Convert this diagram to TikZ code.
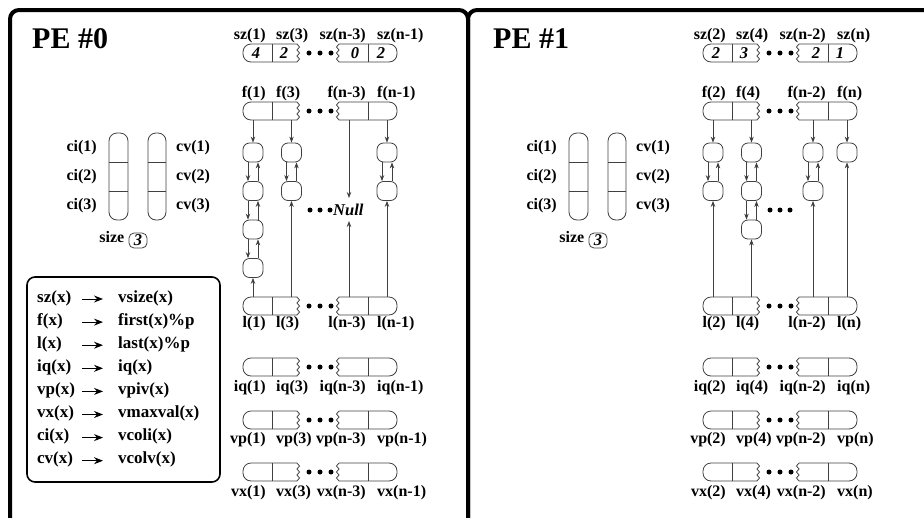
\documentclass[tikz,border=0pt]{standalone}
\usepackage{fontspec}
\setmainfont{Liberation Serif}
\usetikzlibrary{arrows.meta}
\tikzset{
  arrline/.style={draw=black!75, line width=0.8pt},
  lbl/.style={font=\fontsize{16}{16}\selectfont\bfseries, inner sep=0pt, text height=11pt, text depth=3.5pt},
  leg/.style={font=\fontsize{17}{17}\selectfont\bfseries, inner sep=0pt, text height=12pt, text depth=3.5pt, anchor=west},
  val/.style={font=\fontsize{16.5}{16.5}\selectfont\bfseries\itshape, inner sep=0pt},
  cellnode/.style={draw=black!75, line width=0.8pt, rounded corners=6.5pt, minimum width=20pt, minimum height=19pt, inner sep=0pt},
  conn/.style={draw=black!75, line width=0.8pt, -{Stealth[length=6pt,width=4.5pt,inset=2pt]}},
  legarrow/.style={line width=1pt, -{Stealth[length=9pt,width=7pt,inset=3pt]}},
  panel/.style={line width=4pt, rounded corners=9pt},
  pe/.style={font=\fontsize{30}{30}\selectfont\bfseries, inner sep=0pt, anchor=base west},
}
% #1 x0, #2 y0, #3 name, #4 col3 offset
\newcommand\drawarray[4]{%
\begin{scope}[shift={(#1,#2)}]
\draw[arrline,rounded corners=8pt] (54,0) -- (0,0) -- (0,18) -- (54,18);
\draw[arrline] (54,0) -- (56.5,3) -- (54,6) -- (56.5,9) -- (54,12) -- (56.5,15) -- (54,18);
\draw[arrline,rounded corners=8pt] (96,18) -- (154,18) -- (154,0) -- (96,0);
\draw[arrline] (96,0) -- (93.5,3) -- (96,6) -- (93.5,9) -- (96,12) -- (93.5,15) -- (96,18);
\draw[arrline] (29,0) -- (29,18) (125,0) -- (125,18);
\fill[black] (66,9) circle (2.5) (77,9) circle (2.5) (88,9) circle (2.5);
\coordinate (#3-t1) at (10,0); \coordinate (#3-b1) at (10,18);
\coordinate (#3-t2) at (48.5,0); \coordinate (#3-b2) at (48.5,18);
\coordinate (#3-t3) at (#4,0); \coordinate (#3-b3) at (#4,18);
\coordinate (#3-t4) at (144,0); \coordinate (#3-b4) at (144,18);
\end{scope}}
% #1 x0, #2 y, #3 name, #4..#7 texts
\newcommand\arrlabels[7]{%
\node[lbl,anchor=east] (#3-L1) at ({#1+23},#2) {#4};
\node[lbl,anchor=west] (#3-L2) at ({#1+33},#2) {#5};
\node[lbl,anchor=east] (#3-L3) at ({#1+123},#2) {#6};
\node[lbl,anchor=west] (#3-L4) at ({#1+134},#2) {#7};}
% ci / cv columns
\newcommand\cicv[2]{%
\begin{scope}[shift={(#1,0)}]
\draw[arrline, rounded corners=8pt] (109,133) rectangle (128,220);
\draw[arrline] (109,162) -- (128,162) (109,191) -- (128,191);
\draw[arrline, rounded corners=8pt] (148,133) rectangle (166,220);
\draw[arrline] (148,162) -- (166,162) (148,191) -- (166,191);
\node[lbl,anchor=east] (#2ci1) at (97,148) {ci(1)};
\node[lbl,anchor=east] (#2ci2) at (97,177) {ci(2)};
\node[lbl,anchor=east] (#2ci3) at (97,206) {ci(3)};
\node[lbl,anchor=west] (#2cv1) at (176,148) {cv(1)};
\node[lbl,anchor=west] (#2cv2) at (176,177) {cv(2)};
\node[lbl,anchor=west] (#2cv3) at (176,206) {cv(3)};
\node[lbl,anchor=east] (#2size) at (124.5,239) {size};
\node[val, draw=black!75, line width=0.8pt, rounded corners=5pt, minimum width=18pt, minimum height=15pt] (#2sizebox) at (138,240.5) {3};
\end{scope}}
\newcommand\dlink[2]{%
\draw[conn] ([xshift=-5pt]#1.south) -- ([xshift=-5pt]#2.north);
\draw[conn] ([xshift=5pt]#2.north) -- ([xshift=5pt]#1.south);}
\begin{document}
\begin{tikzpicture}[x=1pt,y=-1pt]
\useasboundingbox (0,0) rectangle (924,517);
\begin{scope}
\clip (0,0) rectangle (924,517);
\draw[panel] (10,540) -- (10,10) -- (468,10) -- (468,540);
\draw[panel] (468,540) -- (468,10) -- (945,10) -- (945,540);
\end{scope}
\node[pe] (pe0) at (32,48) {PE \#0};
\node[pe] (pe1) at (493,48) {PE \#1};

\cicv{0}{A}
\cicv{460}{B}

% ---------- PE 0 arrays ----------
\drawarray{243}{44}{szA}{106}
\arrlabels{243}{36}{szA}{sz(1)}{sz(3)}{sz(n-3)}{sz(n-1)}
\node[val] (szAv1) at (256,53) {4};
\node[val] (szAv2) at (284,53) {2};
\node[val] (szAv3) at (355,53) {0};
\node[val] (szAv4) at (381,53) {2};
\drawarray{243}{102}{fA}{106}
\arrlabels{243}{94}{fA}{f(1)}{f(3)}{f(n-3)}{f(n-1)}
\drawarray{243}{297}{lA}{106}
\arrlabels{243}{324}{lA}{l(1)}{l(3)}{l(n-3)}{l(n-1)}
\drawarray{243}{358}{iqA}{106}
\arrlabels{243}{388}{iqA}{iq(1)}{iq(3)}{iq(n-3)}{iq(n-1)}
\drawarray{243}{411}{vpA}{106}
\arrlabels{243}{440}{vpA}{vp(1)}{vp(3)}{vp(n-3)}{vp(n-1)}
\drawarray{243}{463}{vxA}{106}
\arrlabels{243}{493}{vxA}{vx(1)}{vx(3)}{vx(n-3)}{vx(n-1)}

% PE 0 lists
\node[cellnode] (a1) at (253,152.5) {};
\node[cellnode] (a2) at (253,191) {};
\node[cellnode] (a3) at (253,229.5) {};
\node[cellnode] (a4) at (253,268) {};
\node[cellnode] (b1) at (291.5,152.5) {};
\node[cellnode] (b2) at (291.5,191) {};
\node[cellnode] (d1) at (387,152.5) {};
\node[cellnode] (d2) at (387,191) {};
\draw[conn] (fA-b1) -- (a1.north);
\dlink{a1}{a2} \dlink{a2}{a3} \dlink{a3}{a4}
\draw[conn] (lA-t1) -- (a4.south);
\draw[conn] (fA-b2) -- (b1.north);
\dlink{b1}{b2}
\draw[conn] (lA-t2) -- (b2.south);
\coordinate (nullT) at (349,198);
\coordinate (nullB) at (349,221);
\draw[conn] (fA-b3) -- (nullT);
\draw[conn] (lA-t3) -- (nullB);
\fill[black] (310,210) circle (2.5) (320,210) circle (2.5) (330,210) circle (2.5);
\node[val, anchor=west] (null) at (333,210) {Null};
\draw[conn] (fA-b4) -- (d1.north);
\dlink{d1}{d2}
\draw[conn] (lA-t4) -- (d2.south);

% ---------- PE 1 arrays ----------
\drawarray{703}{44}{szB}{110}
\arrlabels{703}{36}{szB}{sz(2)}{sz(4)}{sz(n-2)}{sz(n)}
\node[val] (szBv1) at (716,53) {2};
\node[val] (szBv2) at (744,53) {3};
\node[val] (szBv3) at (816,53) {2};
\node[val] (szBv4) at (840,53) {1};
\drawarray{703}{102}{fB}{110}
\arrlabels{703}{94}{fB}{f(2)}{f(4)}{f(n-2)}{f(n)}
\drawarray{703}{297}{lB}{110}
\arrlabels{703}{324}{lB}{l(2)}{l(4)}{l(n-2)}{l(n)}
\drawarray{703}{358}{iqB}{110}
\arrlabels{703}{388}{iqB}{iq(2)}{iq(4)}{iq(n-2)}{iq(n)}
\drawarray{703}{411}{vpB}{110}
\arrlabels{703}{440}{vpB}{vp(2)}{vp(4)}{vp(n-2)}{vp(n)}
\drawarray{703}{463}{vxB}{110}
\arrlabels{703}{493}{vxB}{vx(2)}{vx(4)}{vx(n-2)}{vx(n)}

% PE 1 lists
\node[cellnode] (p1) at (713,152.5) {};
\node[cellnode] (p2) at (713,191) {};
\node[cellnode] (q1) at (751.5,152.5) {};
\node[cellnode] (q2) at (751.5,191) {};
\node[cellnode] (q3) at (751.5,229.5) {};
\node[cellnode] (r1) at (813,152.5) {};
\node[cellnode] (r2) at (813,191) {};
\node[cellnode] (s1) at (847,152.5) {};
\draw[conn] (fB-b1) -- (p1.north);
\dlink{p1}{p2}
\draw[conn] (lB-t1) -- (p2.south);
\draw[conn] (fB-b2) -- (q1.north);
\dlink{q1}{q2} \dlink{q2}{q3}
\draw[conn] (lB-t2) -- (q3.south);
\draw[conn] (fB-b3) -- (r1.north);
\dlink{r1}{r2}
\draw[conn] (lB-t3) -- (r2.south);
\draw[conn] (fB-b4) -- (s1.north);
\draw[conn] (lB-t4) -- (s1.south);
\fill[black] (770,210) circle (2.5) (780,210) circle (2.5) (790,210) circle (2.5);

% ---------- legend ----------
\node[draw, line width=1.6pt, rounded corners=8pt, minimum width=193pt, minimum height=205pt, inner sep=0pt] (legend) at (123.5,379.5) {};
\foreach \a/\b [count=\i] in {sz(x)/vsize(x), f(x)/first(x)\%p, l(x)/last(x)\%p, iq(x)/iq(x), vp(x)/vpiv(x), vx(x)/vmaxval(x), ci(x)/vcoli(x), cv(x)/vcolv(x)} {
  \pgfmathsetmacro\yy{298+(\i-1)*23.1}
  \node[leg] (lk\i) at (37,\yy) {\a};
  \node[leg] (lv\i) at (118,\yy) {\b};
  \coordinate (la\i) at (82,{\yy+1});
  \coordinate (lb\i) at (103,{\yy+1});
  \draw[legarrow] (la\i) -- (lb\i);
}
\end{tikzpicture}
\end{document}
